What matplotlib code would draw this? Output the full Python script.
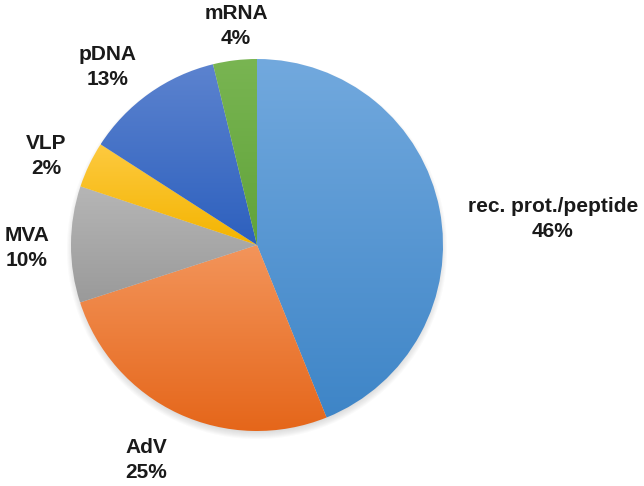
import numpy as np
import matplotlib.pyplot as plt
from matplotlib.colors import to_rgb
from matplotlib.patches import Circle

# slice sizes as drawn (the printed percentages are kept as text below)
labels = ["rec. prot./peptide", "AdV", "MVA", "VLP", "pDNA", "mRNA"]
shares = [43.9, 26.1, 10.1, 4.0, 12.1, 3.8]
pct_text = ["46%", "25%", "10%", "2%", "13%", "4%"]

# gradient fill of each slice, light at the top, darker at the bottom
top_colors = ["#72a9de", "#f3955b", "#b6b6b6", "#fdca40", "#5c83cf", "#79b552"]
bottom_colors = ["#3e85c7", "#e5661a", "#9a9a9a", "#f4b400", "#2d60be", "#61a33a"]

# where each label block sits, in figure pixels from the top-left
label_pos = [(553, 219), (146, 460), (27, 248), (46, 156), (108, 67), (236, 26)]

W, H = 644, 486
CX, CY, R = 257, 486 - 245, 186


def gradient(top, bottom):
    t = np.linspace(0, 1, 256)[:, None, None]
    return to_rgb(bottom) + t * (np.array(to_rgb(top)) - np.array(to_rgb(bottom)))


fig = plt.figure(figsize=(W / 100, H / 100), dpi=100)
ax = fig.add_axes([0, 0, 1, 1])

# soft shadow under the pie
for k in range(8):
    ax.add_patch(Circle((CX, CY - 4), R + 4 - k, color="#7f7f7f", alpha=0.035, lw=0, zorder=0))

wedges, _ = ax.pie(shares, startangle=90, counterclock=False, radius=R,
                   center=(CX, CY), wedgeprops=dict(linewidth=0))

for w, top, bot in zip(wedges, top_colors, bottom_colors):
    w.set_facecolor("none")
    ext = w.get_path().get_extents(w.get_patch_transform())
    im = ax.imshow(gradient(top, bot), origin="lower", aspect="auto",
                   extent=[ext.x0, ext.x1, ext.y0, ext.y1], zorder=1)
    im.set_clip_path(w)

for name, pct, (x, y) in zip(labels, pct_text, label_pos):
    ax.text(x, H - y, name + "\n" + pct, ha="center", va="center",
            fontsize=15, fontweight="bold", family="Liberation Sans",
            color="#1a1a1a", linespacing=1.45)

ax.set_xlim(0, W)
ax.set_ylim(0, H)
ax.set_aspect("auto")
ax.set_axis_off()

fig.savefig("out.png", dpi=100)
